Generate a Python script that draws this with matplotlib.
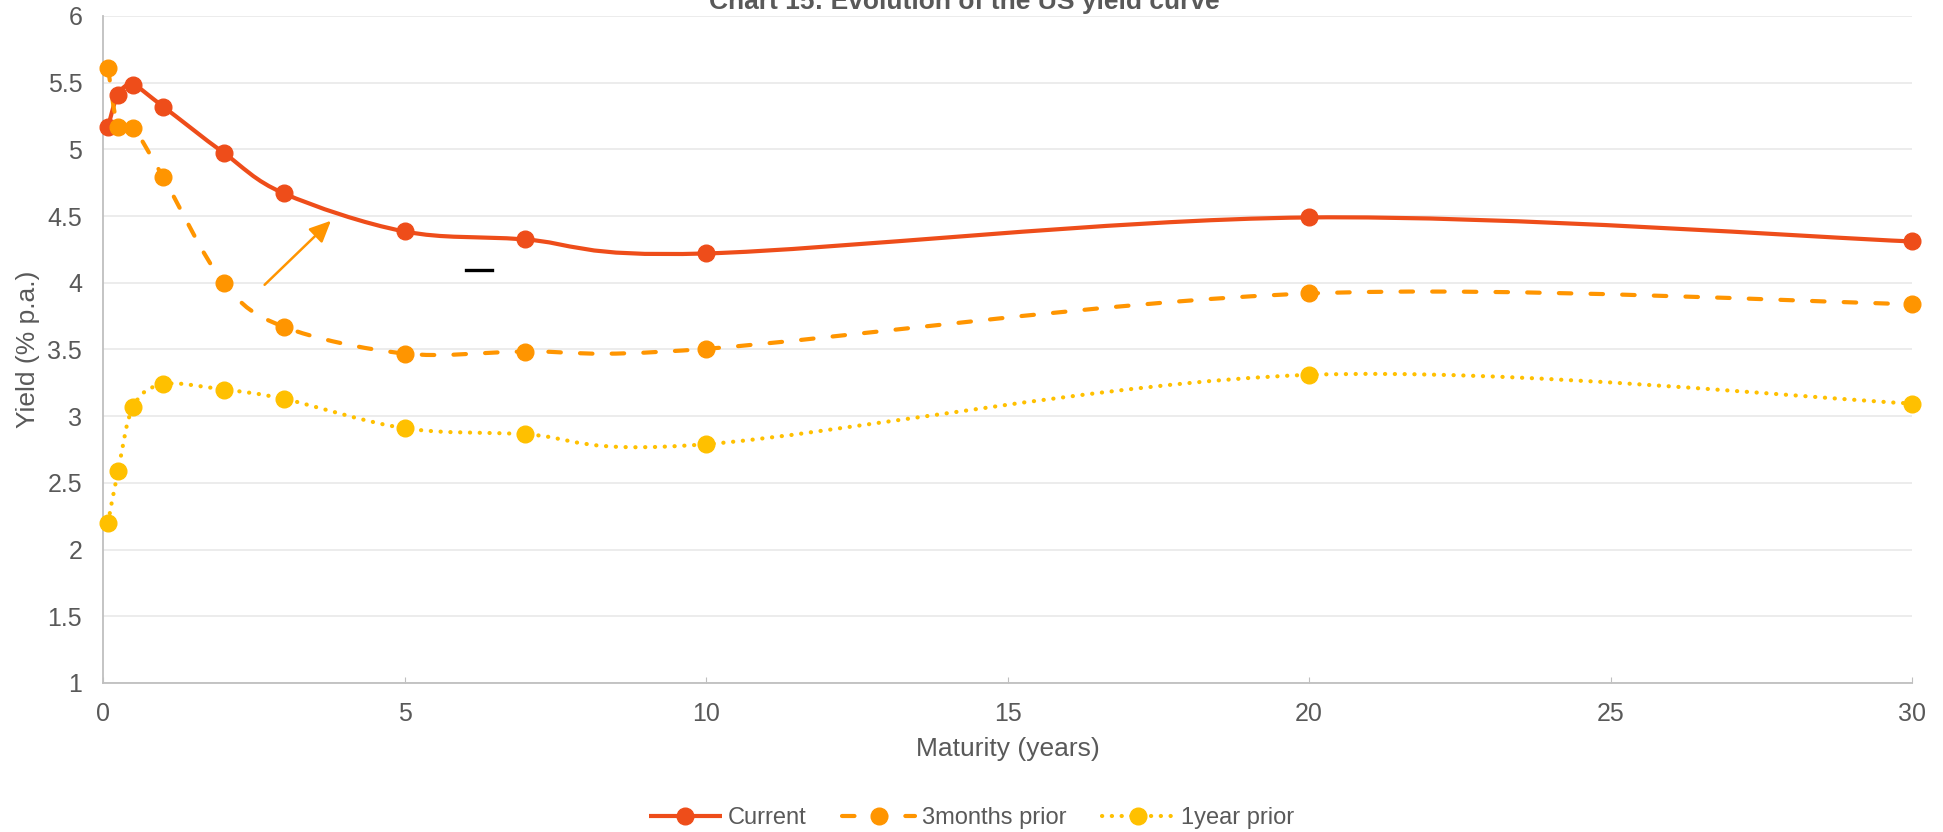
import numpy as np
import matplotlib
matplotlib.use("Agg")
import matplotlib.pyplot as plt
from matplotlib.path import Path
from matplotlib.patches import PathPatch
from matplotlib.lines import Line2D
from matplotlib.ticker import FuncFormatter, MultipleLocator

plt.rcParams['font.family'] = ['Liberation Sans', 'DejaVu Sans']

# maturities in years (1M, 3M, 6M, 1Y, 2Y, 3Y, 5Y, 7Y, 10Y, 20Y, 30Y)
maturity = [1 / 12, 0.25, 0.5, 1, 2, 3, 5, 7, 10, 20, 30]
current = [5.17, 5.41, 5.48, 5.32, 4.975, 4.67, 4.385, 4.325, 4.22, 4.49, 4.31]
months3_prior = [5.61, 5.17, 5.16, 4.79, 4.0, 3.67, 3.47, 3.485, 3.505, 3.92, 3.84]
year1_prior = [2.2, 2.59, 3.07, 3.24, 3.2, 3.13, 2.91, 2.865, 2.79, 3.31, 3.095]

# name, values, colour, line style, line width
series = [
    ("Current", current, "#EE4D1A", "solid", 3.0),
    ("3months prior", months3_prior, "#FF9500", (0, (3.0, 4.6)), 3.0),
    ("1year prior", year1_prior, "#FFC000", (0, (0.05, 2.3)), 3.0),
]

grey = "#595959"


def smooth_path(xs, ys, t=1 / 6):
    # Catmull-Rom style cubic Bezier through the points (spreadsheet "smoothed line")
    pts = np.column_stack([xs, ys])
    n = len(pts)
    verts = [pts[0]]
    codes = [Path.MOVETO]
    for i in range(n - 1):
        p0 = pts[i - 1] if i > 0 else pts[i]
        p1 = pts[i]
        p2 = pts[i + 1]
        p3 = pts[i + 2] if i + 2 < n else pts[i + 1]
        verts += [p1 + (p2 - p0) * t, p2 - (p3 - p1) * t, p2]
        codes += [Path.CURVE4] * 3
    return Path(verts, codes)


fig = plt.figure(figsize=(19.43, 8.32), dpi=100)
ax = fig.add_axes([103 / 1943, 149 / 832, 1809 / 1943, 667 / 832])

handles = []
for name, vals, col, ls, lw in series:
    patch = PathPatch(smooth_path(maturity, vals), fill=False, edgecolor=col,
                      lw=lw, linestyle=ls, capstyle="round", joinstyle="round",
                      zorder=3)
    ax.add_patch(patch)
    ax.plot(maturity, vals, "o", color=col, ms=12, mec=col, zorder=4,
            clip_on=False)
    handles.append(Line2D([], [], color=col, lw=lw, ls=ls, marker="o", ms=12,
                          dash_capstyle="round", solid_capstyle="butt",
                          label=name))

# arrow and short mark inside the plot
ax.annotate("", xy=(3.78, 4.465), xytext=(2.68, 3.985),
            arrowprops=dict(arrowstyle="-|>,head_length=0.65,head_width=0.3",
                            color="#FF9500", lw=1.8, mutation_scale=20,
                            shrinkA=0, shrinkB=0), zorder=5)
ax.plot([6.02, 6.45], [4.097, 4.097], color="black", lw=2.4, zorder=5)

ax.set_xlim(0, 30)
ax.set_ylim(1, 6)
ax.xaxis.set_major_locator(MultipleLocator(5))
ax.yaxis.set_major_locator(MultipleLocator(0.5))
ax.yaxis.set_major_formatter(FuncFormatter(lambda v, p: "%g" % v))

ax.grid(axis="y", color="#EBEBEB", lw=1.3, zorder=0)
ax.set_axisbelow(True)
for s in ["top", "right"]:
    ax.spines[s].set_visible(False)
for s in ["left", "bottom"]:
    ax.spines[s].set_color("#BFBFBF")
    ax.spines[s].set_linewidth(1.3)

ax.tick_params(axis="y", length=0, pad=15, labelsize=18, labelcolor=grey)
ax.tick_params(axis="x", direction="in", length=4, color="#BFBFBF", pad=14,
               labelsize=18, labelcolor=grey)

ax.set_xlabel("Maturity (years)", fontsize=19, color=grey)
ax.set_ylabel("Yield (% p.a.)", fontsize=19, color=grey)
ax.xaxis.set_label_coords(0.5, -0.081)
ax.yaxis.set_label_coords(-0.035, 0.5)

fig.text(0.4964, 1 - 9 / 832, "Chart 15: Evolution of the US yield curve",
         ha="center", va="baseline", fontsize=19, fontweight="bold", color=grey)

fig.legend(handles=handles, loc="center", bbox_to_anchor=(0.5, 1 - 818 / 832),
           ncol=3, frameon=False, fontsize=17, handlelength=3.1,
           handletextpad=0.27, columnspacing=1.5, numpoints=1,
           labelcolor=grey)

fig.savefig("out.png", dpi=100)
